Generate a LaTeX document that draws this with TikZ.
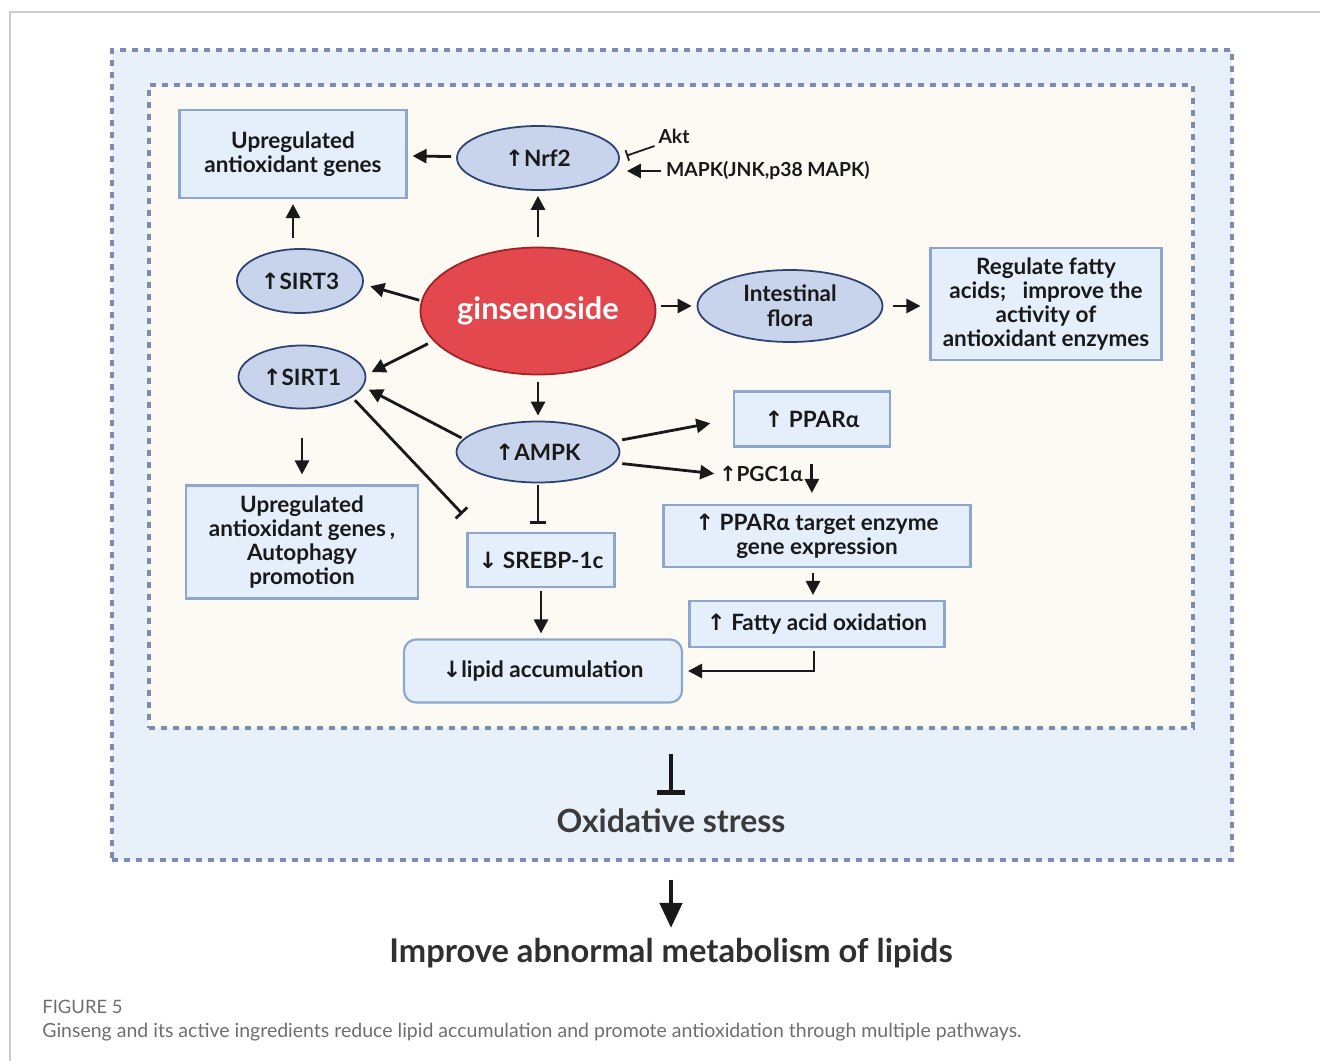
\documentclass[tikz,border=0pt]{standalone}
\usepackage{fontspec}
\setmainfont{Lato}
\newfontfamily\arrfont{DejaVu Sans}
\usetikzlibrary{positioning, shapes.geometric, arrows.meta}
\definecolor{outerfill}{RGB}{232,240,250}
\definecolor{innerfill}{RGB}{253,250,243}
\definecolor{frameline}{RGB}{122,140,180}
\definecolor{boxfill}{RGB}{229,239,251}
\definecolor{boxline}{RGB}{140,166,208}
\definecolor{ovalfill}{RGB}{200,212,235}
\definecolor{ovalline}{RGB}{45,65,115}
\definecolor{ginfill}{RGB}{226,72,77}
\definecolor{ginline}{RGB}{160,35,40}
\definecolor{txt}{RGB}{25,25,25}
\definecolor{capgray}{RGB}{110,110,110}
\definecolor{pageline}{RGB}{205,205,205}
\newcommand{\upar}{{\arrfont\char"2191}}
\newcommand{\dnar}{{\arrfont\char"2193}}
\tikzset{
	frame/.style={
		rectangle,
		draw=frameline,
		line width=1.8pt,
		dash pattern=on 0.12cm off 0.12cm,
		inner sep=0pt,
	},
	box/.style={
		rectangle,
		draw=boxline,
		fill=boxfill,
		line width=1.2pt,
		align=center,
		inner sep=2pt,
		text=txt,
		font=\bfseries\fontsize{12.8}{13.8}\selectfont,
	},
	oval/.style={
		ellipse,
		draw=ovalline,
		fill=ovalfill,
		line width=1pt,
		inner sep=0pt,
		align=center,
		text=txt,
		font=\bfseries\fontsize{12.8}{14}\selectfont,
	},
	gin/.style={
		ellipse,
		draw=ginline,
		fill=ginfill,
		line width=1pt,
		inner sep=0pt,
		text=white,
		minimum width=4.7cm,
		minimum height=2.54cm,
		font=\bfseries\fontsize{17.5}{20}\selectfont,
	},
	label/.style={
		text=txt,
		inner sep=1pt,
		font=\bfseries\fontsize{11}{13}\selectfont,
	},
	arr/.style={
		->,
		line width=1.6pt,
		draw=txt,
		shorten <=0.1cm,
		shorten >=0.1cm,
	},
	inh/.style={
		-{Bar[width=0.32cm]},
		line width=1.6pt,
		draw=txt,
		shorten <=0.1cm,
		shorten >=0.14cm,
	},
}

\begin{document}
\begin{tikzpicture}[node distance = 2cm, >={Triangle[length=0.28cm, width=0.28cm]}]
	\useasboundingbox (0,0) rectangle (26.4,-21.22);
	\draw [pageline, line width=0.6pt] (0.2,-21.22) |- (26.4,-0.24);
	
	% Frames
	\node [frame, fill=outerfill, minimum width=22.4cm, minimum height=16.2cm] (outer) at (13.44,-9.1) {};
	\node [frame, fill=innerfill, minimum width=20.88cm, minimum height=12.86cm] (inner) at (13.42,-8.13) {};
	
	% Place nodes
	\node [gin] (gin) at (10.76,-6.22) {ginsenoside};
	\node [oval, above of = gin, node distance=3.06cm, minimum width=3.24cm, minimum height=1.28cm] (nrf) {\upar Nrf2};
	\node [box, left of = nrf, node distance=4.9cm, yshift=0.08cm, minimum width=4.54cm, minimum height=1.76cm] (upbox) {Upregulated\\antioxidant genes};
	\node [label, right of = nrf, node distance=2.72cm, yshift=0.44cm] (akt) {Akt};
	\node [label, right of = nrf, node distance=2.52cm, yshift=-0.26cm, anchor=west] (mapk) {MAPK(JNK,p38 MAPK)};
	
	\node [oval, left of = gin, node distance=4.76cm, yshift=0.6cm, minimum width=2.52cm, minimum height=1.28cm] (sirt3) {\upar SIRT3};
	\node [oval, left of = gin, node distance=4.72cm, yshift=-1.32cm, minimum width=2.54cm, minimum height=1.26cm] (sirt1) {\upar SIRT1};
	\node [box, below of = sirt1, node distance=3.3cm, minimum width=4.64cm, minimum height=2.26cm] (leftbox) {Upregulated\\antioxidant genes\,,\\Autophagy\\promotion};
	
	\node [oval, right of = gin, node distance=5.04cm, yshift=0.1cm, minimum width=3.7cm, minimum height=1.44cm] (flora) {Intestinal\\flora};
	\node [box, right of = flora, node distance=5.12cm, yshift=0.04cm, minimum width=4.62cm, minimum height=2.24cm] (regbox) {Regulate fatty\\acids;\ \ \ improve the\\activity of\\antioxidant enzymes};
	
	\node [oval, below of = gin, node distance=2.82cm, minimum width=3.26cm, minimum height=1.22cm] (ampk) {\upar AMPK};
	\node [box, below of = ampk, node distance=2.16cm, xshift=0.06cm, minimum width=2.94cm, minimum height=1.08cm] (srebp) {\dnar\ SREBP-1c};
	\node [box, below of = srebp, node distance=2.22cm, xshift=0.04cm, minimum width=5.56cm, minimum height=1.26cm, rounded corners=0.24cm] (lipid) {\dnar lipid accumulation};
	\coordinate [above left=0.36cm and 0.08cm of srebp.north west] (sbar);
	
	\node [box, right of = ampk, node distance=5.48cm, yshift=0.66cm, minimum width=3.12cm, minimum height=1.1cm] (ppar) {\upar\ PPARα};
	\node [label, font=\fontsize{11.8}{13}\selectfont\bfseries, right of = ampk, node distance=4.46cm, yshift=-0.44cm] (pgc) {\upar PGC1α};
	\node [box, below of = ppar, node distance=2.34cm, xshift=0.1cm, minimum width=6.14cm, minimum height=1.24cm] (target) {\upar\ PPARα target enzyme\\gene expression};
	\node [box, below of = target, node distance=1.76cm, minimum width=5.1cm, minimum height=0.92cm] (fao) {\upar\ Fatty acid oxidation};
	
	\node [text=txt!85, font=\bfseries\fontsize{18.2}{20}\selectfont] (oxi) at (13.42,-16.42) {Oxidative stress};
	\node [text=txt!90, font=\bfseries\fontsize{18.6}{21}\selectfont] (impr) at (13.42,-19.06) {Improve abnormal metabolism of lipids};
	
	\node [anchor=west, inner sep=0pt, text=capgray, font=\fontsize{10.5}{12}\selectfont] (fig) at (0.84,-20.14) {FIGURE 5};
	\node [anchor=west, inner sep=0pt, text=capgray, font=\fontsize{11.1}{13}\selectfont] (cap) at (0.84,-20.64) {Ginseng and its active ingredients reduce lipid accumulation and promote antioxidation through multiple pathways.};
	
	% Connectors
	\draw [arr] (nrf) -- (upbox);
	\draw [arr, shorten <=0.2cm] (sirt3.north -| upbox.south) -- (upbox.south);
	\draw [inh, line width=1pt, {Bar[width=0.22cm]}-, shorten <=0.14cm, shorten >=0.04cm] (nrf.east) -- (akt.south west);
	\draw [arr, shorten <=0.06cm, shorten >=0.14cm] (mapk.west) -- (mapk.west -| nrf.east);
	
	\draw [arr, shorten <=0.2cm] (gin) -- (nrf);
	\draw [arr, shorten <=0.04cm, shorten >=0.14cm] (gin.175) -- (sirt3.-3);
	\draw [arr, shorten <=0.12cm, shorten >=0.12cm] (gin.196) -- (sirt1.2);
	\draw [arr] (gin.east |- flora.west) -- (flora.west);
	\draw [arr, shorten <=0.2cm, shorten >=0.18cm] (flora.east) -- (flora.east -| regbox.west);
	\draw [arr, shorten <=0.14cm] (gin) -- (ampk);
	
	\draw [arr, shorten <=0.04cm, shorten >=0.12cm] (ampk.170) -- (sirt1.-9);
	\draw [inh, shorten <=0.08cm, shorten >=0cm] (sirt1.-22) -- (sbar);
	\draw [arr, shorten <=0.58cm, shorten >=0.2cm] (sirt1) -- (leftbox);
	\draw [inh, shorten <=0.04cm, shorten >=0.16cm] (ampk) -- (ampk |- srebp.north);
	
	\draw [arr, shorten <=0.14cm, shorten >=0.46cm] (ampk.8) -- (ppar.west);
	\draw [arr, shorten <=0.14cm, shorten >=0.06cm] (ampk.-8) -- (pgc.west);
	\draw [arr, shorten <=0cm, shorten >=0.22cm] ([xshift=0.14cm]pgc.north east) -- ([xshift=0.14cm]pgc.north east |- target.north);
	\draw [arr] ([xshift=-0.08cm]target.south) -- ([xshift=-0.08cm]fao.north);
	\draw [arr, shorten <=0.06cm] ([xshift=-0.06cm]fao.south) |- (lipid.east);
	\draw [arr, shorten <=0.06cm] (srebp) -- (srebp |- lipid.north);
	
	\draw [-{Bar[width=0.56cm, line width=3pt]}, line width=1.8pt, draw=txt, shorten <=0.48cm, shorten >=0.16cm] (inner.south -| oxi) -- (oxi);
	\draw [-{Triangle[length=0.5cm, width=0.44cm]}, line width=2.6pt, draw=txt, shorten <=0.36cm, shorten >=0.08cm] (outer.south -| impr) -- (impr);
\end{tikzpicture}
\end{document}
